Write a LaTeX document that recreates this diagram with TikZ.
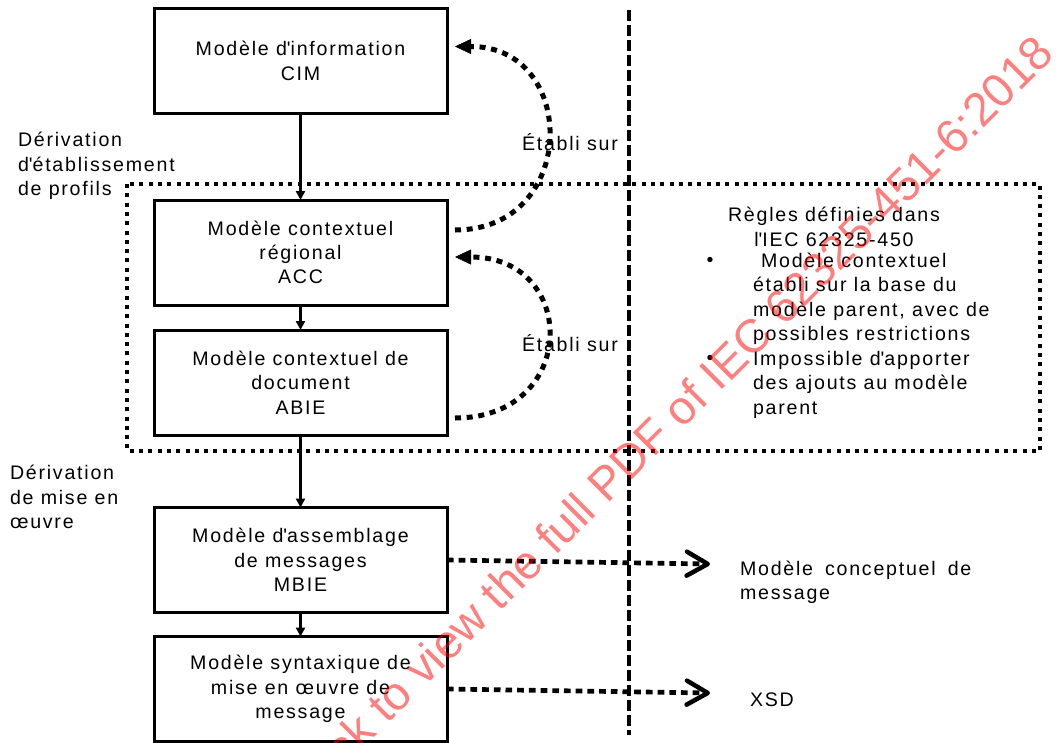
\documentclass[tikz,border=0pt]{standalone}
\usepackage{fontspec}
\setmainfont{Liberation Sans}[LetterSpace=9]
\newfontfamily\markfont{Liberation Sans}
\usetikzlibrary{arrows.meta,calc}
\newcommand\apos{\textquotesingle}
\tikzset{
  lbl/.style={font=\fontsize{19.6}{24.3}\selectfont, inner sep=0pt, outer sep=0pt},
  model/.style={lbl, draw, line width=3pt, minimum width=293pt, minimum height=105pt, align=center},
  flow/.style={line width=2.5pt, -{Triangle[length=9pt,width=9pt]}},
  basis/.style={line width=5pt, dash pattern=on 6pt off 5.7pt,
    -{Triangle[length=16pt,width=15pt,line width=0.5pt]}},
  output/.style={line width=4.7pt, dash pattern=on 6.7pt off 5pt,
    -{Straight Barb[length=21pt,width=24pt,line width=4.5pt,round]}},
  zone/.style={line width=3.5pt, dash pattern=on 4pt off 5.3pt},
  divider/.style={line width=3.3pt, dash pattern=on 11pt off 4pt},
}
\begin{document}
\begin{tikzpicture}[x=1pt,y=-1pt]
\useasboundingbox (0,0) rectangle (1056,742);
\clip (0,0) rectangle (1056,742);

% profile derivation zone and phase divider
\draw[zone] (127,184) rectangle (1040,451);
\draw[divider] (629,10) -- (629,735);

% model chain
\node[model] (cim)  at (300.5,61)    {Modèle d\apos information\\CIM};
\node[model] (acc)  at (300.5,252.5) {Modèle contextuel\\régional\\ACC};
\node[model] (abie) at (300.5,382.5) {Modèle contextuel de\\document\\ABIE};
\node[model] (mbie) at (300.5,560)   {Modèle d\apos assemblage\\de messages\\MBIE};
\node[model] (mim)  at (300.5,689)   {Modèle syntaxique de\\mise en œuvre de\\message};

\draw[flow] (cim) -- (acc);
\draw[flow] (acc) -- (abie);
\draw[flow] (abie) -- (mbie);
\draw[flow] (mbie) -- (mim);

% phase labels
\node[lbl, align=left, anchor=west] (derivprof) at (18,166) {Dérivation\\d\apos établissement\\de profils};
\node[lbl, align=left, anchor=west] (derivimpl) at (10,497) {Dérivation\\de mise en\\œuvre};

% "based on" relations
\draw[basis] ($(acc.north east)+(8,30)$) .. controls +(124,0) and +(124,0) .. ($(cim.north east)+(8,38)$);
\draw[basis] ($(abie.north east)+(8,88)$) .. controls +(124,0) and +(124,0) .. ($(acc.north east)+(8,57)$);
\node[lbl, anchor=west] (basis1) at (522,142) {Établi sur};
\node[lbl, anchor=west] (basis2) at (522,343) {Établi sur};

% rules
\node[lbl, align=center] (rules) at (834,227) {Règles définies dans\\l\apos IEC 62325-450};
\node[lbl] (bullet1) at (710,262) {\textbullet};
\node[lbl] (bullet2) at (710,360) {\textbullet};
\node[lbl, align=left, anchor=west, font=\fontsize{19.6}{24.5}\selectfont] (ruletext) at (753,335.5)
  {\hspace{8pt}Modèle contextuel\\établi sur la base du\\modèle parent, avec de\\possibles restrictions\\Impossible d\apos apporter\\des ajouts au modèle\\parent};

% outputs
\coordinate (tip1) at (710,564);
\coordinate (tip2) at (710,693);
\draw[output] (mbie.east) -- (tip1);
\draw[output] (mim.east) -- (tip2);
\node[lbl, align=left, anchor=west] (concept) at (740,582) {Modèle\hspace{12pt}conceptuel\hspace{12pt}de\\message};
\node[lbl, anchor=west] (xsd) at (750,700) {XSD};

% overprint
\node[rotate=45, anchor=base west, inner sep=0pt, text=red, opacity=0.5,
  font=\markfont\fontsize{47}{47}\selectfont] (stamp) at (306,806)
  {Click to view the full PDF of IEC 62325-451-6:2018};
\end{tikzpicture}
\end{document}
